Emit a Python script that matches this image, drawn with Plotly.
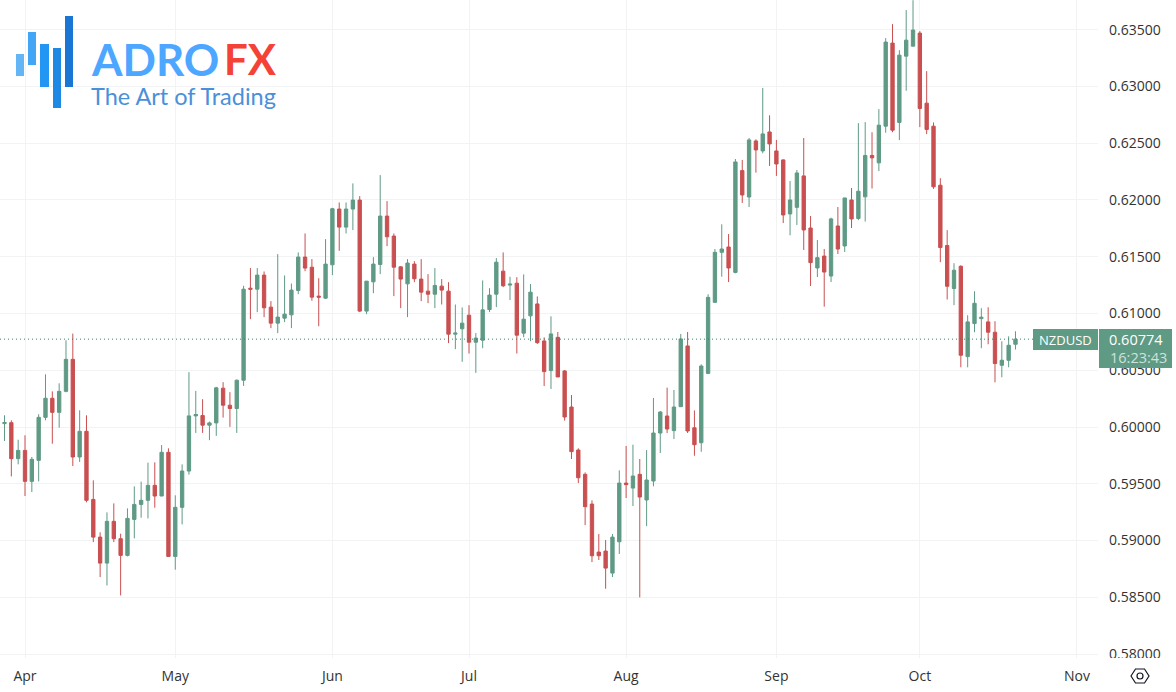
import plotly.graph_objects as go

W, H = 1176, 692
PLOT_W, PLOT_H = 1098, 658
bar_index = list(range(-3, 146))

opens = [.60030,.60038,.59721,.59794,.59521,.59706,.60085,.60253,.60129,.60314,.60596,.59736,.59962,.59362,.5903,.58801,.59169,.59016,.58869,.59186,.59318,.59354,.59486,.59392,.59777,.5886,.59292,.59612,.60098,.60101,.60016,.60036,.60342,.60192,.60163,.60412,.61223,.61214,.61338,.61056,.60915,.60959,.60988,.61203,.61497,.61408,.61153,.61135,.61429,.6192,.61761,.6192,.61999,.61021,.61279,.61432,.61858,.61682,.61411,.61261,.61435,.61303,.61197,.6117,.61241,.61197,.60818,.60865,.60985,.60747,.60765,.61035,.6117,.61373,.6125,.61267,.60827,.60979,.61084,.60758,.60497,.6079,.60494,.60176,.59797,.59583,.59321,.58898,.58907,.58713,.58989,.59506,.59462,.59583,.59357,.59524,.59947,.60097,.59968,.60179,.60714,.59993,.59861,.60472,.61098,.61539,.61586,.61362,.62259,.62026,.6252,.62432,.62599,.62432,.62353,.61877,.61935,.62212,.61753,.61401,.61506,.6133,.61771,.61595,.62,.61837,.62028,.62392,.62327,.6265,.63382,.62683,.63267,.63355,.6347,.62853,.6265,.6213,.61599,.6122,.61416,.6062,.60911,.60955,.60926,.60835,.60544,.60588,.60729]
highs = [.60103,.60059,.59888,.59927,.59736,.60112,.60464,.60314,.60385,.60764,.60823,.60147,.60103,.5953,.59072,.59248,.59327,.5906,.59283,.59477,.59518,.59686,.59689,.59841,.59812,.59398,.59671,.60483,.60318,.60245,.60048,.60354,.60395,.60307,.60418,.61244,.614,.614,.6137,.61109,.61523,.61335,.61264,.61538,.61705,.61479,.61311,.61655,.61931,.61978,.61978,.62146,.62034,.61285,.61497,.62219,.6199,.61705,.61417,.61479,.61461,.61479,.61347,.614,.61303,.61276,.61079,.61053,.61073,.60827,.61291,.61223,.61488,.61538,.61323,.6132,.61344,.61259,.6115,.6079,.60975,.60837,.60502,.60282,.59812,.596,.59354,.59057,.59004,.59057,.59618,.59833,.59844,.59718,.59797,.60256,.60141,.60347,.60326,.6082,.60837,.60146,.60552,.61169,.61568,.61786,.617,.62361,.62353,.62546,.62535,.62987,.62746,.62529,.62358,.62167,.62264,.62546,.61859,.61647,.61568,.61844,.61938,.62018,.62106,.62677,.62686,.62597,.628,.63426,.63549,.6332,.63673,.6376,.63488,.63135,.62683,.62192,.61734,.61443,.61425,.60985,.61196,.61046,.61055,.60932,.60755,.60799,.60843]
lows = [.59877,.59565,.59671,.59392,.59427,.59521,.60059,.59853,.59994,.60306,.59656,.59692,.59336,.58986,.58678,.58604,.58986,.58516,.5886,.59019,.59201,.59195,.59289,.59392,.5886,.58743,.59142,.5958,.59948,.59948,.59884,.59922,.60083,.60001,.59948,.60362,.6095,.61012,.60968,.60871,.60827,.60924,.60871,.6117,.61373,.61112,.60888,.61129,.61338,.61552,.61705,.61735,.61012,.60994,.61179,.61347,.61593,.61153,.61047,.60968,.61276,.61109,.61091,.61047,.61079,.60739,.60686,.60574,.60647,.60477,.60694,.61012,.61056,.61232,.61118,.60647,.60791,.60756,.60732,.60361,.60335,.60441,.60056,.59718,.59506,.59136,.5881,.58828,.58575,.58678,.58881,.59374,.59304,.58499,.59127,.59477,.59771,.59947,.59894,.60179,.59947,.59747,.59782,.60466,.61098,.61324,.61277,.61354,.61974,.61938,.62241,.62411,.623,.62212,.61797,.61689,.6178,.61559,.61242,.61321,.6106,.61277,.61524,.61542,.61753,.61822,.6181,.62101,.62254,.62592,.62597,.62527,.62962,.63355,.62642,.6258,.62098,.61452,.61123,.61073,.60526,.60526,.60835,.60694,.60729,.60394,.60438,.60526,.60682]
closes = [.6004,.59721,.59794,.59521,.59715,.60085,.60253,.60129,.60314,.60596,.59736,.59962,.59354,.5903,.58801,.59169,.59016,.58869,.59195,.59318,.59354,.59486,.59392,.59777,.5886,.59292,.59612,.60098,.6011,.60016,.60036,.60345,.60192,.60163,.60412,.61214,.61214,.61338,.6105,.60915,.60968,.60994,.61206,.61497,.614,.61144,.61144,.61435,.61923,.61761,.6192,.61999,.61021,.61285,.61435,.61858,.61676,.61408,.61303,.61444,.61306,.61188,.6117,.61247,.61206,.60818,.60827,.60915,.60747,.60783,.61032,.61162,.61452,.61244,.61259,.60809,.6095,.61188,.60743,.60488,.6082,.60441,.60088,.59783,.59553,.59298,.58866,.58866,.58757,.5903,.59506,.59492,.59568,.59383,.59533,.59947,.60132,.59982,.60176,.60776,.59965,.59844,.60537,.61142,.61539,.61568,.61401,.62335,.62044,.62529,.62441,.62582,.62494,.62317,.61868,.62,.62238,.61736,.61448,.61492,.61365,.61833,.61568,.62018,.61833,.62077,.62392,.62371,.62659,.63391,.62615,.63276,.63408,.63497,.62806,.62621,.62116,.61581,.6124,.61381,.60632,.60926,.6109,.60967,.60835,.60559,.60588,.6072,.60774]

month_positions = [0, 22, 45, 65, 88, 110, 131, 154]
month_labels = ["Apr", "May", "Jun", "Jul", "Aug", "Sep", "Oct", "Nov"]
price_ticks = [0.58, 0.585, 0.59, 0.595, 0.6, 0.605, 0.61, 0.615, 0.62, 0.625, 0.63, 0.635]
last_price = 0.60774

GREEN = "#5f9a85"
RED = "#c94f50"
GRID = "#f2f3f5"
FONT = "Open Sans"

fig = go.Figure(go.Candlestick(
    x=bar_index, open=opens, high=highs, low=lows, close=closes,
    increasing=dict(line=dict(color=GREEN, width=1), fillcolor=GREEN),
    decreasing=dict(line=dict(color=RED, width=1), fillcolor=RED),
    whiskerwidth=0, hoverinfo="skip", showlegend=False,
))


def px(x):
    return x / PLOT_W


def py(y):
    return 1 - y / PLOT_H


def rect(x0, y0, x1, y1, color):
    return dict(type="rect", xref="paper", yref="paper", x0=px(x0), x1=px(x1), y0=py(y0), y1=py(y1),
                fillcolor=color, line=dict(width=0), layer="above")


def note(x, y, text, size, color, anchor="left", family=FONT, weight=None):
    return dict(xref="paper", yref="paper", x=px(x), y=py(y), text=text, showarrow=False,
                xanchor=anchor, yanchor="middle", borderpad=0,
                font=dict(size=size, color=color, family=family, weight=weight))


hexagon = ("M {} {} L {} {} L {} {} L {} {} L {} {} L {} {} Z".format(
    px(1131), py(676), px(1135.5), py(669), px(1144.5), py(669),
    px(1149), py(676), px(1144.5), py(683), px(1135.5), py(683)))

shapes = [
    # last price line
    dict(type="line", xref="paper", yref="y", x0=0, x1=px(1098), y0=last_price, y1=last_price,
         line=dict(color="#3f8069", width=1, dash="1px,3px"), layer="above"),
    # mask that cuts the lowest price label at the time axis
    rect(1098, 658, 1176, 668, "#ffffff"),
    # last price boxes
    rect(1033, 329, 1098, 350, GREEN),
    rect(1099, 329, 1172, 368, GREEN),
    # logo bars
    rect(16, 54, 24, 76, "#64b5f6"),
    rect(28, 32, 36, 65, "#42a5f5"),
    rect(40, 44, 49, 87, "#2196f3"),
    rect(53, 48, 61, 108, "#1e88e5"),
    rect(65, 16, 73, 87, "#1976d2"),
    # settings icon
    dict(type="path", xref="paper", yref="paper", path=hexagon, line=dict(color="#131722", width=1.2), layer="above"),
    dict(type="circle", xref="paper", yref="paper", x0=px(1137), x1=px(1143), y0=py(679), y1=py(673),
         line=dict(color="#131722", width=1.2), layer="above"),
]

annotations = [
    note(1065.5, 339.5, "NZDUSD", 13, "#ffffff", "center"),
    note(1135.5, 339.5, "0.60774", 14.5, "#ffffff", "center"),
    note(1138.5, 357.5, "16:23:43", 14.5, "#cfe2da", "center"),
    note(90, 59, "ADRO", 44, "#4da6ff", "left", "Lato", 700),
    note(223, 59, "FX", 42, "#f44336", "left", "Lato", 700),
    note(90, 96, "The Art of Trading", 23.5, "#4a90d9", "left", "Lato"),
]

fig.update_layout(
    width=W, height=H, autosize=False,
    margin=dict(l=0, r=W - PLOT_W, t=0, b=H - PLOT_H),
    paper_bgcolor="#ffffff", plot_bgcolor="#ffffff",
    boxgap=0.3,
    font=dict(family=FONT, size=14, color="#333333"),
    shapes=shapes, annotations=annotations, showlegend=False, hovermode=False,
    xaxis=dict(range=[-3.66, 157.08], tickvals=month_positions, ticktext=month_labels, showgrid=True,
               gridcolor=GRID, gridwidth=1, zeroline=False, rangeslider=dict(visible=False),
               showline=False, ticks="", ticklabelstandoff=8, tickfont=dict(size=14, color="#333333")),
    yaxis=dict(range=[0.57965, 0.637617], side="right", tickvals=price_ticks,
               ticktext=["%.5f" % t for t in price_ticks], showgrid=True, gridcolor=GRID, gridwidth=1,
               zeroline=False, showline=False, ticks="", ticklabelstandoff=10,
               tickfont=dict(size=14, color="#333333")),
)

fig.write_html("out.html", config={"displayModeBar": False},
               post_script="document.body.style.margin='0';")
